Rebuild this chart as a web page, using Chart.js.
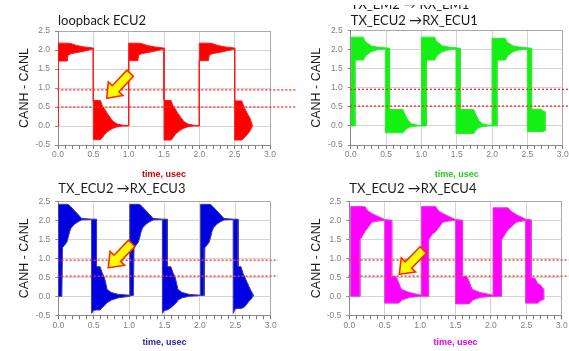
<!DOCTYPE html>
<html><head><meta charset="utf-8">
<script src="https://cdn.jsdelivr.net/npm/chart.js@4.4.1/dist/chart.umd.min.js"></script>
<style>
html,body{margin:0;padding:0;background:#fff;}
#wrap{position:relative;width:569px;height:351px;overflow:hidden;background:#fff;}
canvas{position:absolute;display:block;}
</style></head><body>
<div id="wrap">
<canvas id="c1" width="298" height="180" style="left:0;top:0"></canvas>
<canvas id="c2" width="271" height="175" style="left:298px;top:5px"></canvas>
<canvas id="c3" width="298" height="171" style="left:0;top:180px"></canvas>
<canvas id="c4" width="271" height="171" style="left:298px;top:180px"></canvas>
</div>
<script>
// ---- text ----
const panelTitles = ['loopback ECU2', 'TX_ECU2 \u2192RX_ECU1', 'TX_ECU2 \u2192RX_ECU3', 'TX_ECU2 \u2192RX_ECU4'];
const ghostTitle = 'TX_EM2 \u2192 RX_EM1';
const yAxisTitle = 'CANH - CANL';
const xAxisTitle = 'time, usec';
const xTickValues = [0.0, 0.5, 1.0, 1.5, 2.0, 2.5, 3.0];
const yTickValues = [-0.5, 0.0, 0.5, 1.0, 1.5, 2.0, 2.5];

// ---- panel 1: loopback ECU2 (envelope of the ringing waveform) ----
const t1 = [0, 0, 0.13, 0.14, 0.18, 0.26, 0.37, 0.47, 0.5, 0.5, 0.6, 0.63, 0.66, 0.7, 0.74, 0.78, 0.84, 0.92, 1.0,
            1.0, 1.13, 1.14, 1.18, 1.26, 1.37, 1.47, 1.5, 1.5, 1.6, 1.63, 1.66, 1.7, 1.74, 1.78, 1.84, 1.92, 2.0,
            2.0, 2.13, 2.14, 2.18, 2.26, 2.37, 2.47, 2.5, 2.5, 2.6, 2.64, 2.69, 2.72, 2.745];
const hi1 = [0, 2.18, 2.18, 2.18, 2.17, 2.12, 2.08, 2.06, 2.05, 0.67, 0.67, 0.52, 0.45, 0.32, 0.22, 0.12, 0.05, 0.02, 0.01,
             2.18, 2.18, 2.18, 2.17, 2.12, 2.08, 2.06, 2.05, 0.67, 0.67, 0.52, 0.45, 0.32, 0.22, 0.12, 0.05, 0.02, 0.01,
             2.18, 2.18, 2.18, 2.17, 2.12, 2.08, 2.06, 2.05, 0.66, 0.66, 0.47, 0.29, 0.2, 0.04];
const lo1 = [0, 1.71, 1.71, 1.86, 1.9, 1.93, 1.97, 2.01, 2.03, -0.36, -0.36, -0.3, -0.22, -0.15, -0.1, -0.06, -0.02, 0.0, 0.0,
             1.72, 1.72, 1.86, 1.9, 1.93, 1.97, 2.01, 2.03, -0.37, -0.37, -0.3, -0.22, -0.15, -0.1, -0.06, -0.02, 0.0, 0.0,
             1.72, 1.72, 1.86, 1.9, 1.93, 1.97, 2.01, 2.03, -0.37, -0.37, -0.3, -0.2, -0.12, -0.02];

// ---- panel 2: TX_ECU2 -> RX_ECU1 ----
const t2 = [0, 0.01, 0.06, 0.06, 0.18, 0.2, 0.22, 0.29, 0.38, 0.49, 0.49, 0.55, 0.55, 0.74, 0.77, 0.81, 0.86, 0.95, 1.0,
            1.0, 1.07, 1.07, 1.19, 1.21, 1.23, 1.3, 1.39, 1.49, 1.49, 1.55, 1.55, 1.74, 1.77, 1.81, 1.86, 1.95, 2.0,
            2.0, 2.07, 2.07, 2.19, 2.21, 2.23, 2.3, 2.39, 2.5, 2.5, 2.56, 2.56, 2.7, 2.72, 2.74, 2.75];
const hi2 = [0, 2.33, 2.33, 2.33, 2.33, 2.22, 2.2, 2.1, 2.07, 2.05, 2.05, 2.04, 0.43, 0.43, 0.3, 0.15, 0.06, 0.02, 0.01,
             2.33, 2.33, 2.33, 2.33, 2.22, 2.2, 2.1, 2.07, 2.05, 2.05, 2.04, 0.43, 0.43, 0.3, 0.15, 0.06, 0.02, 0.01,
             2.3, 2.3, 2.3, 2.3, 2.2, 2.18, 2.1, 2.07, 2.05, 2.05, 2.04, 0.44, 0.44, 0.4, 0.38, 0.38];
const lo2 = [0, 0, 0, 1.73, 1.73, 1.8, 1.86, 1.95, 2.0, 2.02, -0.18, -0.18, -0.18, -0.18, -0.11, -0.05, -0.02, 0.0, 0.0,
             0, 0, 1.73, 1.73, 1.8, 1.86, 1.95, 2.0, 2.02, -0.2, -0.2, -0.2, -0.2, -0.11, -0.05, -0.02, 0.0, 0.0,
             0, 0, 1.73, 1.73, 1.8, 1.86, 1.95, 2.0, 2.02, -0.15, -0.15, -0.15, -0.15, -0.15, -0.13, -0.13];

// ---- panel 3: TX_ECU2 -> RX_ECU3 ----
const t3 = [0, 0.0, 0.05, 0.06, 0.12, 0.14, 0.16, 0.18, 0.23, 0.28, 0.33, 0.47, 0.47, 0.5, 0.54, 0.54, 0.59, 0.62, 0.65, 0.67, 0.69, 0.75, 0.85, 1.01,
            1.01, 1.06, 1.07, 1.13, 1.15, 1.17, 1.19, 1.24, 1.29, 1.34, 1.47, 1.47, 1.5, 1.54, 1.54, 1.59, 1.62, 1.65, 1.67, 1.69, 1.75, 1.85, 2.01,
            2.01, 2.06, 2.07, 2.13, 2.15, 2.17, 2.19, 2.24, 2.29, 2.34, 2.47, 2.47, 2.5, 2.54, 2.54, 2.58, 2.61, 2.64, 2.69, 2.72, 2.75];
const hi3 = [0, 2.42, 2.42, 2.42, 2.42, 2.42, 2.38, 2.35, 2.25, 2.15, 2.05, 2.03, 2.03, 2.03, 2.03, 0.78, 0.78, 0.62, 0.5, 0.35, 0.18, 0.1, 0.05, 0.03,
             2.42, 2.42, 2.42, 2.42, 2.42, 2.38, 2.35, 2.25, 2.15, 2.05, 2.03, 2.03, 2.03, 2.03, 0.78, 0.78, 0.62, 0.5, 0.35, 0.18, 0.1, 0.05, 0.03,
             2.42, 2.42, 2.42, 2.42, 2.42, 2.38, 2.35, 2.25, 2.15, 2.05, 2.03, 2.03, 2.03, 2.03, 0.78, 0.78, 0.6, 0.48, 0.27, 0.15, 0.05];
const lo3 = [0, 0, 0, 1.28, 1.42, 1.55, 1.7, 1.8, 1.9, 1.96, 2.01, 2.02, -0.45, -0.37, -0.36, -0.36, -0.36, -0.3, -0.25, -0.2, -0.17, -0.1, -0.04, 0.0,
             0.02, 0.02, 1.28, 1.42, 1.55, 1.7, 1.8, 1.9, 1.96, 2.01, 2.02, -0.45, -0.37, -0.36, -0.36, -0.3, -0.25, -0.2, -0.17, -0.1, -0.04, 0.0, 0.02,
             0.02, 0.02, 1.28, 1.42, 1.55, 1.7, 1.8, 1.9, 1.96, 2.01, 2.02, -0.45, -0.33, -0.32, -0.32, -0.32, -0.3, -0.26, -0.14, -0.08, 0.0];

// ---- panel 4: TX_ECU2 -> RX_ECU4 ----
const t4 = [0.02, 0.02, 0.15, 0.15, 0.2, 0.22, 0.26, 0.32, 0.41, 0.5, 0.5, 0.6, 0.6, 0.66, 0.69, 0.72, 0.74, 0.85, 1.02,
            1.02, 1.12, 1.12, 1.17, 1.22, 1.26, 1.32, 1.41, 1.5, 1.5, 1.6, 1.6, 1.66, 1.69, 1.72, 1.74, 1.85, 2.03,
            2.03, 2.15, 2.15, 2.2, 2.24, 2.3, 2.36, 2.47, 2.49, 2.49, 2.57, 2.57, 2.62, 2.66, 2.7, 2.74, 2.75];
const hi4 = [0, 2.36, 2.36, 2.36, 2.36, 2.36, 2.25, 2.18, 2.1, 2.02, 2.02, 2.0, 0.52, 0.52, 0.4, 0.25, 0.18, 0.1, 0.03,
             2.36, 2.36, 2.36, 2.36, 2.36, 2.25, 2.18, 2.1, 2.02, 2.02, 2.0, 0.52, 0.52, 0.4, 0.25, 0.18, 0.1, 0.03,
             2.33, 2.33, 2.33, 2.33, 2.33, 2.22, 2.15, 2.05, 2.03, 2.03, 2.01, 0.48, 0.48, 0.34, 0.3, 0.2, 0.04];
const lo4 = [0, 0, 0, 1.48, 1.63, 1.7, 1.8, 1.95, 1.98, 2.0, -0.18, -0.18, -0.18, -0.18, -0.18, -0.15, -0.1, -0.03, 0.0,
             0, 0, 1.48, 1.63, 1.7, 1.8, 1.95, 1.98, 2.0, -0.2, -0.2, -0.2, -0.2, -0.2, -0.15, -0.1, -0.03, 0.0,
             0, 0, 1.48, 1.63, 1.75, 1.85, 1.95, 1.99, 2.0, -0.18, -0.18, -0.18, -0.18, -0.18, -0.12, -0.08, -0.04];

// ---- threshold lines (dotted) and arrow annotations, in data units ----
const thresholds1 = [0.95, 0.5];
const thresholds2 = [0.96, 0.52];
const thresholds3 = [0.95, 0.53];
const thresholds4 = [0.955, 0.53];
const arrow1 = { tip: [0.69, 0.73], tail: [1.02, 1.39] };
const arrow3 = { tip: [0.706, 0.753], tail: [1.037, 1.395] };
const arrow4 = { tip: [0.706, 0.58], tail: [1.045, 1.22] };

Chart.defaults.font.family = "'Liberation Sans', Arial, sans-serif";

const arrowPlugin = {
  id: 'arrowMark',
  afterDatasetsDraw(chart, args, opts) {
    if (!opts || !opts.tip) return;
    const xs = chart.scales.x, ys = chart.scales.y;
    const tx = xs.getPixelForValue(opts.tip[0]), ty = ys.getPixelForValue(opts.tip[1]);
    const ex = xs.getPixelForValue(opts.tail[0]), ey = ys.getPixelForValue(opts.tail[1]);
    let dx = ex - tx, dy = ey - ty; const L = Math.hypot(dx, dy); dx /= L; dy /= L;
    const px = -dy, py = dx;
    const hl = 13, hw = 10, sw = 4.5;
    const bx = tx + dx * hl, by = ty + dy * hl;
    const ctx = chart.ctx; ctx.save();
    ctx.beginPath();
    ctx.moveTo(tx, ty);
    ctx.lineTo(bx + px * hw, by + py * hw);
    ctx.lineTo(bx + px * sw, by + py * sw);
    ctx.lineTo(ex + px * sw, ey + py * sw);
    ctx.lineTo(ex - px * sw, ey - py * sw);
    ctx.lineTo(bx - px * sw, by - py * sw);
    ctx.lineTo(bx - px * hw, by - py * hw);
    ctx.closePath();
    ctx.fillStyle = '#ffff00'; ctx.fill();
    ctx.lineWidth = 1.6; ctx.strokeStyle = '#ff2a00'; ctx.lineJoin = 'miter'; ctx.stroke();
    ctx.restore();
  }
};

function envelope(t, hi, lo) {
  const pts = [];
  for (let i = 0; i < t.length; i++) pts.push({ x: t[i], y: hi[i] });
  for (let i = t.length - 1; i >= 0; i--) pts.push({ x: t[i], y: lo[i] });
  return pts;
}
function isListed(list, v) { return list.find(a => Math.abs(a - v) < 1e-6); }

function makePanel(id, p) {
  const thr = p.thr.map(v => ({
    data: [{ x: -0.01, y: v }, { x: p.thrEnd, y: v }],
    borderColor: '#ff3030', borderWidth: 1.4, borderDash: [2, 2], pointRadius: 0,
    fill: false, clip: false, tension: 0
  }));
  new Chart(document.getElementById(id), {
    type: 'line',
    data: { datasets: [...thr, {
      data: envelope(p.t, p.hi, p.lo),
      borderColor: p.edge, backgroundColor: p.fillColor, borderWidth: 1,
      pointRadius: 0, fill: 'shape', tension: 0
    }] },
    options: {
      responsive: false, animation: false, events: [],
      layout: { padding: { left: 0, top: 0, bottom: 0, right: p.padR } },
      plugins: {
        legend: { display: false }, tooltip: { enabled: false },
        title: { display: true, text: p.title, align: 'start', fullSize: false, color: '#1a1a1a',
          font: { family: 'Lato', size: 13, weight: 'normal', lineHeight: p.titleLH },
          padding: { top: p.titlePadT, bottom: p.titlePadB } },
        arrowMark: p.arrow || false
      },
      scales: {
        x: {
          type: 'linear', min: 0, max: 3,
          afterFit(s) { s.height = p.xH; s.paddingLeft = 0; s.paddingRight = 0; },
          ticks: { stepSize: 0.1, autoSkip: false, maxRotation: 0, padding: 1, color: '#808080',
            font: { size: 8.5 },
            callback: v => { const m = isListed(xTickValues, v); return m === undefined ? '' : m.toFixed(1); } },
          grid: { color: c => { const v = c.tick ? c.tick.value : 0; const m = isListed(xTickValues, v);
                    if (m === undefined) return 'rgba(0,0,0,0)'; return m === 3 ? '#aaaaaa' : '#d4d4d4'; },
                  tickColor: '#7a7a7a', tickLength: 4, lineWidth: 1 },
          border: { color: '#8a8a8a' },
          title: { display: true, text: xAxisTitle, color: p.xColor, font: { size: 9, weight: 'bold' },
                   padding: { top: 0, bottom: p.xTitlePadB } }
        },
        y: {
          min: -0.5, max: 2.5,
          afterFit(s) { s.width = p.yW; s.paddingTop = 0; s.paddingBottom = 0; },
          ticks: { stepSize: 0.5, padding: 5, color: '#808080', font: { size: 8.5 },
            callback: v => { const m = isListed(yTickValues, v); return m === undefined ? '' : m.toFixed(1); } },
          grid: { color: c => (c.tick && c.tick.value === 2.5) ? '#aaaaaa' : '#d4d4d4',
                  tickColor: '#8a8a8a', tickLength: 3 },
          border: { color: '#8a8a8a' },
          title: { display: true, text: yAxisTitle, color: '#1a1a1a', font: { size: 12.5 },
                   padding: { top: p.yTitlePadT, bottom: 0 } }
        }
      }
    },
    plugins: p.arrow ? [arrowPlugin] : []
  });
}

makePanel('c1', { title: panelTitles[0], t: t1, hi: hi1, lo: lo1, thr: thresholds1, thrEnd: 3.38,
  fillColor: '#ff0000', edge: '#ff1a1a', xColor: '#cc0000', arrow: arrow1,
  padR: 28, xH: 35, yW: 58, titleLH: 1.2, titlePadT: 13.2, titlePadB: 2.2, yTitlePadT: 17.5, xTitlePadB: 0.1 });
makePanel('c2', { title: [ghostTitle, panelTitles[1]], t: t2, hi: hi2, lo: lo2, thr: thresholds2, thrEnd: 3.1,
  fillColor: '#14f014', edge: '#30e830', xColor: '#22cc22', arrow: null,
  padR: 6.3, xH: 35, yW: 52.7, titleLH: 16 / 13, titlePadT: -8, titlePadB: 1.7, yTitlePadT: 11.2, xTitlePadB: 0.1 });
makePanel('c3', { title: panelTitles[2], t: t3, hi: hi3, lo: lo3, thr: thresholds3, thrEnd: 3.1,
  fillColor: '#0000e0', edge: '#3a3aaa', xColor: '#1f1f9f', arrow: arrow3,
  padR: 27.3, xH: 35.7, yW: 58.3, titleLH: 1.2, titlePadT: 1.2, titlePadB: 4.5, yTitlePadT: 17.5, xTitlePadB: 2.6 });
makePanel('c4', { title: panelTitles[3], t: t4, hi: hi4, lo: lo4, thr: thresholds4, thrEnd: 3.1,
  fillColor: '#ff00ff', edge: '#e040e0', xColor: '#dd00dd', arrow: arrow4,
  padR: 7.3, xH: 35.7, yW: 51.3, titleLH: 1.2, titlePadT: 1.2, titlePadB: 4.5, yTitlePadT: 11.2, xTitlePadB: 2.6 });
</script>
</body></html>
